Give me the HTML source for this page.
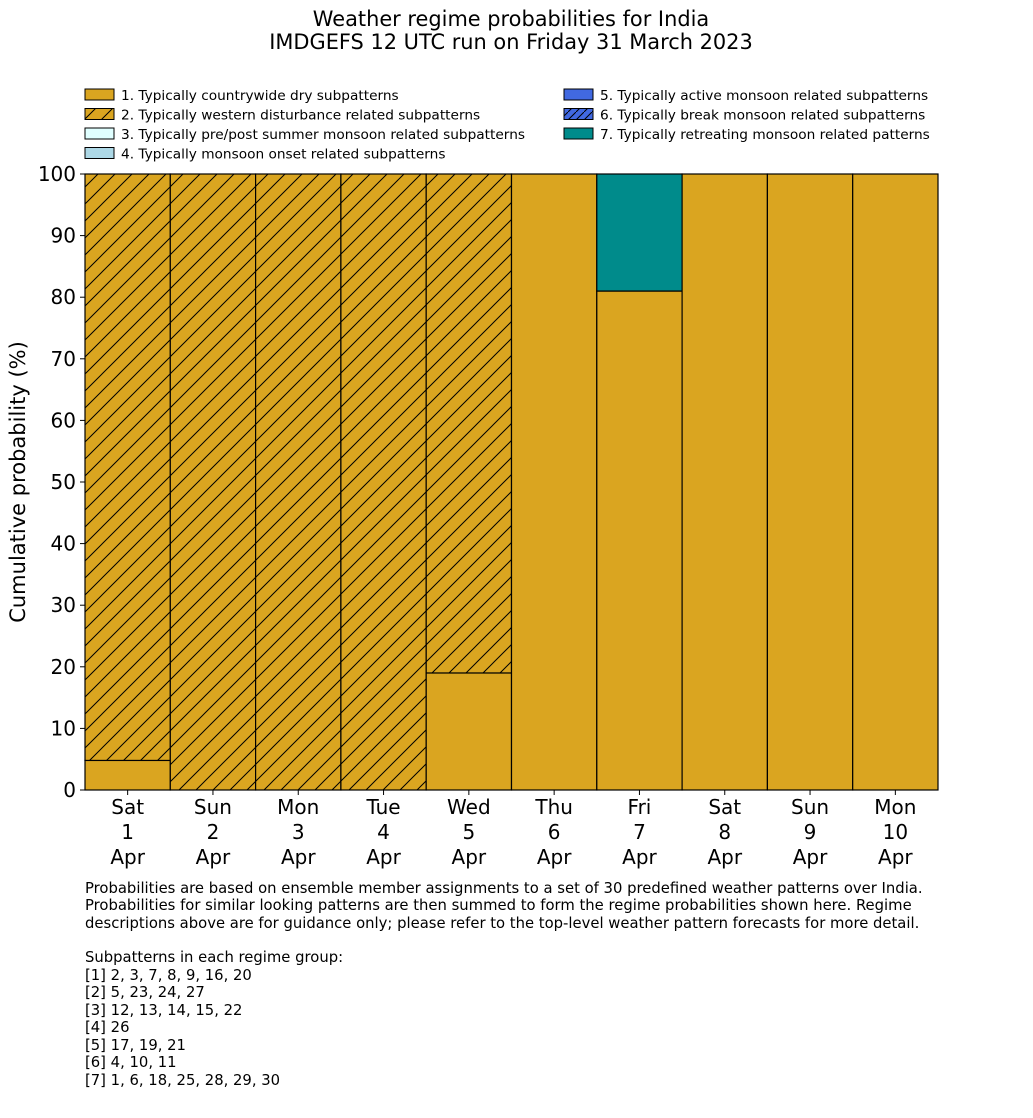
<!DOCTYPE html>
<html><head><meta charset="utf-8"><style>
body{margin:0;background:#fff;font-family:"DejaVu Sans","Liberation Sans",sans-serif;}
svg text{font-family:"DejaVu Sans","Liberation Sans",sans-serif;}
</style></head><body>
<svg id="c" width="1033" height="1114" viewBox="0 0 1033 1114" xmlns="http://www.w3.org/2000/svg">
<defs>
<pattern id="hatch" patternUnits="userSpaceOnUse" width="17" height="17">
<rect width="17" height="17" fill="#daa520"/>
<path d="M-1,18 L18,-1 M-5,5 L5,-5 M12,22 L22,12" stroke="#000" stroke-width="1"/>
</pattern>
<pattern id="hatch2" patternUnits="userSpaceOnUse" width="8" height="8">
<rect width="8" height="8" fill="#4169e1"/>
<path d="M-1,9 L9,-1" stroke="#000" stroke-width="1"/>
</pattern>
</defs>
<text x="511" y="26" font-size="20.9" text-anchor="middle">Weather regime probabilities for India</text>
<text x="511" y="49" font-size="20.9" text-anchor="middle">IMDGEFS 12 UTC run on Friday 31 March 2023</text>
<g id="legend" font-size="13.7"></g>
<g id="bars"></g>
<g id="axes"></g>
<text transform="translate(25,482) rotate(-90)" font-size="21" text-anchor="middle">Cumulative probability (%)</text>
<g font-size="14.8">
<text x="85" y="893">Probabilities are based on ensemble member assignments to a set of 30 predefined weather patterns over India.</text>
<text x="85" y="910">Probabilities for similar looking patterns are then summed to form the regime probabilities shown here. Regime</text>
<text x="85" y="928">descriptions above are for guidance only; please refer to the top-level weather pattern forecasts for more detail.</text>
<text x="85" y="962">Subpatterns in each regime group:</text>
<text x="85" y="980">[1] 2, 3, 7, 8, 9, 16, 20</text>
<text x="85" y="997">[2] 5, 23, 24, 27</text>
<text x="85" y="1015">[3] 12, 13, 14, 15, 22</text>
<text x="85" y="1032">[4] 26</text>
<text x="85" y="1050">[5] 17, 19, 21</text>
<text x="85" y="1067">[6] 4, 10, 11</text>
<text x="85" y="1085">[7] 1, 6, 18, 25, 28, 29, 30</text>
</g>
</svg>
<script>
const days=["Sat","Sun","Mon","Tue","Wed","Thu","Fri","Sat","Sun","Mon"];
const dates=["1","2","3","4","5","6","7","8","9","10"];
const r1=[4.8,0,0,0,19,100,81,100,100,100];
const r2=[95.2,100,100,100,81,0,0,0,0,0];
const r7=[0,0,0,0,0,0,19,0,0,0];
const yTicks=[0,10,20,30,40,50,60,70,80,90,100];
const legendLabels=["1. Typically countrywide dry subpatterns","2. Typically western disturbance related subpatterns","3. Typically pre/post summer monsoon related subpatterns","4. Typically monsoon onset related subpatterns","5. Typically active monsoon related subpatterns","6. Typically break monsoon related subpatterns","7. Typically retreating monsoon related patterns"];
const fills=["#daa520","url(#hatch)","#e0ffff","#add8e6","#4169e1","url(#hatch2)","#008b8b"];
const NS="http://www.w3.org/2000/svg";
const X0=85,X1=938,Y0=790,Y1=174;
const bw=(X1-X0)/days.length;
const x=i=>X0+i*bw;
const y=v=>Y0-(v/100)*(Y0-Y1);
function mk(tag,attrs,parent){const e=document.createElementNS(NS,tag);for(const k in attrs)e.setAttribute(k,attrs[k]);parent.appendChild(e);return e;}
const bars=document.getElementById('bars');
const series=[[r1,fills[0],"regime1"],[r2,fills[1],"regime2"],[r7,fills[6],"regime7"]];
days.forEach((d,i)=>{
  let base=0;
  series.forEach(([arr,f,n])=>{
    const v=arr[i]; if(v<=0)return;
    const r=mk('rect',{x:x(i),y:y(base+v),width:bw,height:y(base)-y(base+v),fill:f,stroke:"#000","stroke-width":1.2},bars);
    
    
    base+=v;
  });
});
const ax=document.getElementById('axes');
const l=mk('line',{x1:X0,y1:Y1,x2:X0,y2:Y0,stroke:"#000","stroke-width":1},ax);


yTicks.forEach(t=>{
  mk('line',{x1:X0-5,x2:X0,y1:y(t),y2:y(t),stroke:"#000"},ax);
  const tx=mk('text',{x:X0-9,y:y(t)+7,"font-size":20,"text-anchor":"end"},ax);
  tx.textContent=t;
  
  
});
days.forEach((d,i)=>{
  const cx=x(i)+bw/2;
  mk('line',{x1:cx,x2:cx,y1:Y0,y2:Y0+5,stroke:"#000"},ax);
  [d,dates[i],"Apr"].forEach((s,k)=>{
    const tx=mk('text',{x:cx,y:814+k*25,"font-size":20,"text-anchor":"middle"},ax);
    tx.textContent=s;
    
    
  });
});
const lg=document.getElementById('legend');
legendLabels.forEach((s,i)=>{
  const col=i<4?0:1,row=i<4?i:i-4;
  const lx=col?564:85, ly=89+row*19.5;
  const r=mk('rect',{x:lx,y:ly,width:29,height:11,fill:fills[i],stroke:"#000","stroke-width":1},lg);
  
  
  const t=mk('text',{x:lx+36,y:ly+11},lg);
  t.textContent=s;
  
  
});
</script>
</body></html>
